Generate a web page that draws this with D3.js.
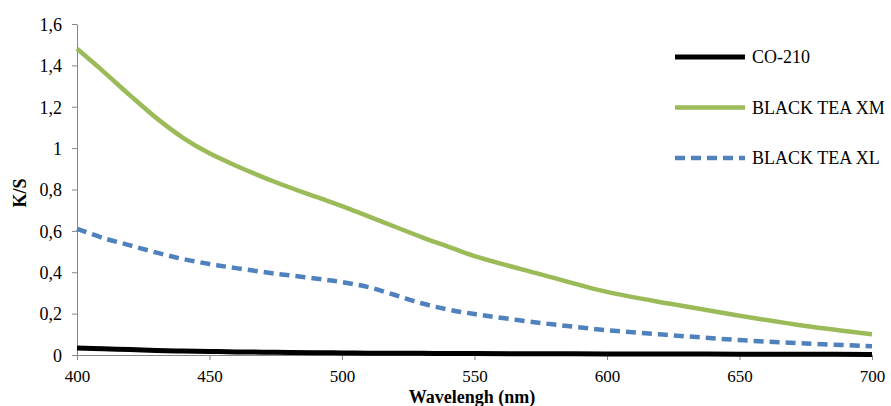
<!DOCTYPE html>
<meta charset="utf-8">
<head>
  <title>K/S spectra</title>
</head>
<style>
  body { margin: 0; background: #fff; }
  .axis path, .axis line { stroke: #868686; }
</style>
<body>
  <svg width="891" height="406"></svg>
  <script src="https://cdnjs.cloudflare.com/ajax/libs/d3/7.8.5/d3.min.js"></script>
  <script>
    var wavelengths = [400, 410, 420, 430, 440, 450, 460, 475, 490, 500, 510, 520, 530, 540, 550, 575, 600, 625, 650, 675, 700]
    var co210 = [0.034, 0.030, 0.026, 0.022, 0.019, 0.017, 0.015, 0.013, 0.011, 0.010, 0.009, 0.0085, 0.008, 0.0075, 0.007, 0.006, 0.005, 0.005, 0.004, 0.004, 0.003]
    var teaXM = [1.48, 1.37, 1.255, 1.145, 1.05, 0.975, 0.915, 0.835, 0.765, 0.72, 0.67, 0.62, 0.57, 0.524, 0.478, 0.39, 0.305, 0.245, 0.19, 0.14, 0.10]
    var teaXL = [0.61, 0.565, 0.53, 0.495, 0.464, 0.44, 0.42, 0.393, 0.37, 0.352, 0.328, 0.29, 0.25, 0.22, 0.198, 0.155, 0.12, 0.095, 0.072, 0.056, 0.042]
    var xTicks = [400, 450, 500, 550, 600, 650, 700]
    var yTicks = [0, 0.2, 0.4, 0.6, 0.8, 1, 1.2, 1.4, 1.6]

    var series = [
      { name: 'CO-210', values: co210, color: '#000000', width: 5, dash: null },
      { name: 'BLACK TEA XM', values: teaXM, color: '#9bbb59', width: 4.5, dash: null },
      { name: 'BLACK TEA XL', values: teaXL, color: '#4f81bd', width: 4.5, dash: '10,6' }
    ]

    var serif = '"Liberation Serif", "Times New Roman", serif'

    var svg = d3.select('svg')
    var x = d3.scaleLinear().domain([400, 700]).range([77, 872])
    var y = d3.scaleLinear().domain([0, 1.6]).range([355, 24])

    var fmt = function(d) { return String(d).replace('.', ',') }

    var xAxis = svg.append('g')
      .attr('class', 'axis')
      .attr('transform', 'translate(0,355)')
      .call(d3.axisBottom(x).tickValues(xTicks).tickSize(5).tickSizeOuter(0))
    xAxis.selectAll('text')
      .attr('y', 27).attr('dy', 0)
      .style('font-family', serif).style('font-size', '17px').attr('fill', '#000')

    var yAxis = svg.append('g')
      .attr('class', 'axis')
      .attr('transform', 'translate(77,0)')
      .call(d3.axisLeft(y).tickValues(yTicks).tickFormat(fmt).tickSize(5).tickSizeOuter(0).tickPadding(10))
    yAxis.selectAll('text')
      .attr('dy', '0.35em')
      .style('font-family', serif).style('font-size', '18px').attr('fill', '#000')

    svg.append('text')
      .attr('x', 472)
      .attr('y', 403)
      .attr('text-anchor', 'middle')
      .style('font-family', serif)
      .style('font-size', '18px')
      .style('font-weight', 'bold')
      .text('Wavelengh (nm)')

    svg.append('text')
      .attr('transform', 'translate(26,193) rotate(-90)')
      .attr('text-anchor', 'middle')
      .style('font-family', serif)
      .style('font-size', '18px')
      .style('font-weight', 'bold')
      .text('K/S')

    var line = d3.line()
      .x(function(d) { return x(d[0]) })
      .y(function(d) { return y(d[1]) })
      .curve(d3.curveCatmullRom.alpha(0.5))

    svg.selectAll('path.series')
      .data(series)
      .enter()
      .append('path')
      .attr('class', 'series')
      .attr('fill', 'none')
      .attr('stroke', function(d) { return d.color })
      .attr('stroke-width', function(d) { return d.width })
      .attr('stroke-dasharray', function(d) { return d.dash })
      .attr('d', function(d) {
        return line(wavelengths.map(function(w, i) { return [w, d.values[i]] }))
      })

    var legend = svg.selectAll('g.legend')
      .data(series)
      .enter()
      .append('g')
      .attr('class', 'legend')
      .attr('transform', function(d, i) { return 'translate(675,' + (57 + i * 50.5) + ')' })

    legend.append('line')
      .attr('x1', 0).attr('x2', 70)
      .attr('stroke', function(d) { return d.color })
      .attr('stroke-width', function(d) { return d.width })
      .attr('stroke-dasharray', function(d) { return d.dash })

    legend.append('text')
      .attr('x', 77)
      .attr('dy', '0.35em')
      .style('font-family', serif)
      .style('font-size', '18px')
      .text(function(d) { return d.name })
  </script>
</body>
</html>
